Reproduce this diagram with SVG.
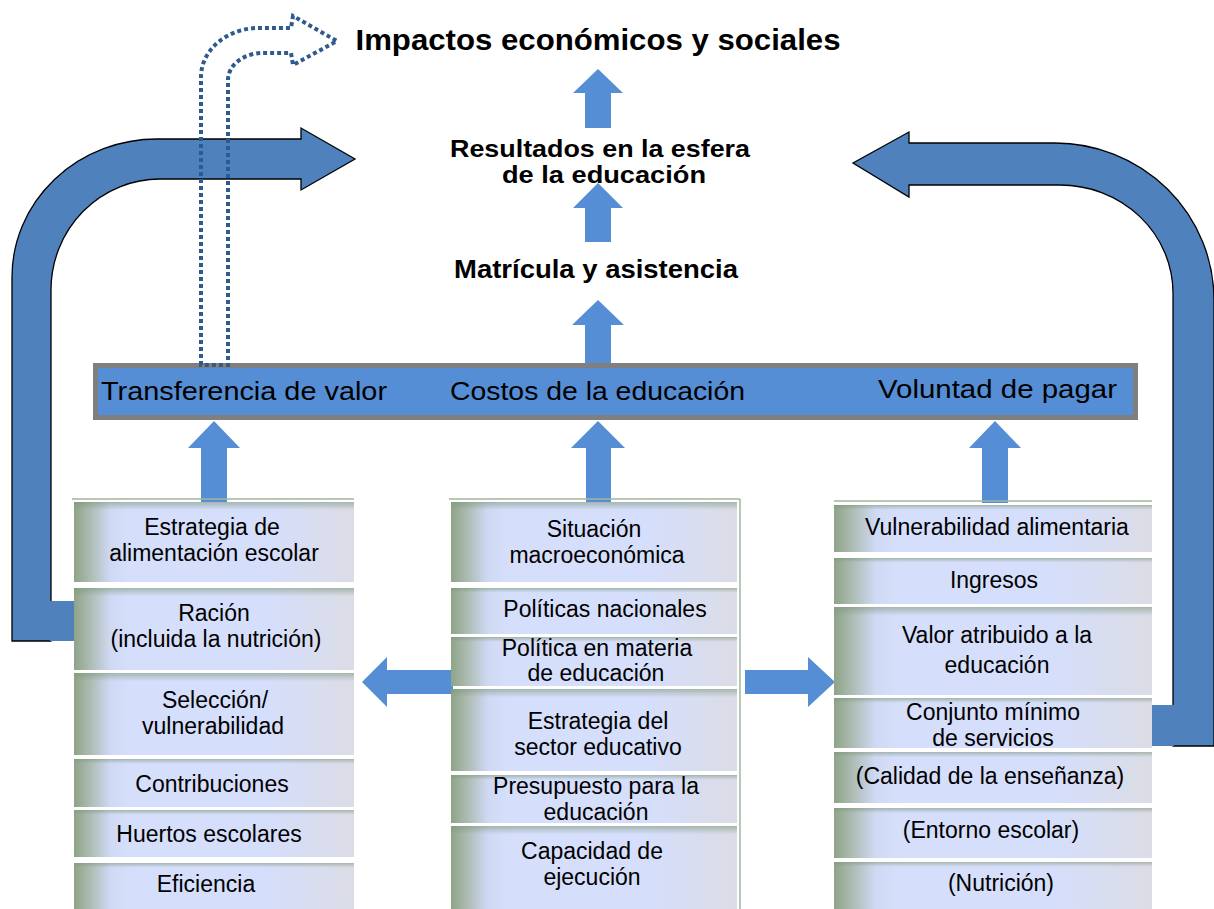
<svg xmlns="http://www.w3.org/2000/svg" width="1214" height="909" viewBox="0 0 1214 909">
<defs>
<linearGradient id="boxH" x1="0" y1="0" x2="1" y2="0">
<stop offset="0" stop-color="#8ea488"/>
<stop offset="0.05" stop-color="#a9b8ac"/>
<stop offset="0.13" stop-color="#cfd9f4"/>
<stop offset="0.2" stop-color="#d5defa"/>
<stop offset="0.7" stop-color="#d5defa"/>
<stop offset="1" stop-color="#dbdce5"/>
</linearGradient>
<linearGradient id="boxV" x1="0" y1="0" x2="0" y2="1">
<stop offset="0" stop-color="#7d957a" stop-opacity="0.55"/>
<stop offset="0.1" stop-color="#7d957a" stop-opacity="0"/>
<stop offset="1" stop-color="#7d957a" stop-opacity="0"/>
</linearGradient>
</defs>
<style>
.bx{fill:url(#boxH)}
.sh{fill:url(#boxV)}
.t{font-family:"Liberation Sans",Arial,sans-serif;font-size:23px;fill:#000;text-anchor:middle}
.bt{font-family:"Liberation Sans",Arial,sans-serif;font-size:26px;fill:#000}
.hd{font-family:"Liberation Sans",Arial,sans-serif;font-weight:bold;fill:#000;text-anchor:middle}
.big{fill:#4f81bd;stroke:#000;stroke-width:1.3}
.ar{fill:#558ed5}
.dot{fill:none;stroke:#2f5a8f;stroke-width:4;stroke-dasharray:4 3}
.ln{stroke:#a3b59e;stroke-width:1.5}
</style>

<g id="connectors">
<path class="big" d="M51,641 L51,290 A109,111 0 0 1 160,179 L301,179 L301,190 L355,159 L301,128 L301,139 L157,139 A145,138 0 0 0 12,277 L12,641 Z"/>
<rect x="50" y="601" width="50" height="40" fill="#4f81bd"/>
<path class="big" d="M1173,746 L1173,293 A113,108 0 0 0 1060,185 L909,185 L909,197 L853,163 L909,132 L909,143 L1055,143 A159,157 0 0 1 1214,300 L1214,746 Z"/>
<rect x="1140" y="705" width="34" height="41" fill="#4f81bd"/>
<polygon class="ar" points="598,69 623,93 611,93 611,128 585,128 585,93 573,93"/>
<polygon class="ar" points="598,183 623,208 611,208 611,242 585,242 585,208 573,208"/>
<polygon class="ar" points="598,300 624,325 611,325 611,363 585,363 585,325 572,325"/>
<polygon class="ar" points="214,421 240,448 227,448 227,502 201,502 201,448 188,448"/>
<polygon class="ar" points="598,421 625,448 611,448 611,502 586,502 586,448 571,448"/>
<polygon class="ar" points="995,421 1021,448 1008,448 1008,503 982,503 982,448 969,448"/>
<polygon class="ar" points="362,682 387,657 387,670 453,670 453,694 387,694 387,707"/>
<polygon class="ar" points="835,682 808,657 808,670 745,670 745,694 808,694 808,707"/>
</g>

<g id="bar">
<rect x="93" y="363" width="1045" height="57" fill="#7f7f7f"/>
<rect x="98" y="368" width="1035" height="47" fill="#558ed5"/>
<text class="bt" x="101" y="400" textLength="286" lengthAdjust="spacingAndGlyphs">Transferencia de valor</text>
<text class="bt" x="450" y="400" textLength="295" lengthAdjust="spacingAndGlyphs">Costos de la educación</text>
<text class="bt" x="878" y="398" textLength="239" lengthAdjust="spacingAndGlyphs">Voluntad de pagar</text>
</g>

<g id="dotted-arrow">
<path class="dot" d="M201,365 L201,77 A58,49 0 0 1 259,28 L291,28 L293,16 L337,41 L293,65 L291,53 L263,53 A35,27 0 0 0 228,80 L228,365 Z"/>
</g>

<g id="titles">
<text class="hd" x="598" y="50" font-size="30" textLength="485" lengthAdjust="spacingAndGlyphs">Impactos económicos y sociales</text>
<text class="hd" x="600" y="157" font-size="24" textLength="300" lengthAdjust="spacingAndGlyphs">Resultados en la esfera</text>
<text class="hd" x="604" y="183" font-size="24" textLength="204" lengthAdjust="spacingAndGlyphs">de la educación</text>
<text class="hd" x="596" y="278" font-size="25" textLength="284" lengthAdjust="spacingAndGlyphs">Matrícula y asistencia</text>
</g>

<g id="column-lines">
<line class="ln" x1="72" y1="499" x2="354" y2="499"/>
<line class="ln" x1="449" y1="499" x2="740" y2="499"/>
<line class="ln" x1="740" y1="499" x2="740" y2="909" stroke-width="1"/>
<line class="ln" x1="834" y1="501" x2="1152" y2="501"/>
</g>

<g id="l1"><rect class="bx" x="74" y="502" width="280" height="80"/><rect class="sh" x="74" y="502" width="280" height="80"/>
<text class="t" x="212" y="534.5">Estrategia de</text><text class="t" x="214" y="560.5">alimentación escolar</text></g>
<g id="l2"><rect class="bx" x="74" y="588" width="280" height="82"/><rect class="sh" x="74" y="588" width="280" height="82"/>
<text class="t" x="214" y="621">Ración</text><text class="t" x="216" y="647">(incluida la nutrición)</text></g>
<g id="l3"><rect class="bx" x="74" y="673" width="280" height="82"/><rect class="sh" x="74" y="673" width="280" height="82"/>
<text class="t" x="215" y="708">Selección/</text><text class="t" x="213" y="734">vulnerabilidad</text></g>
<g id="l4"><rect class="bx" x="74" y="759" width="280" height="48"/><rect class="sh" x="74" y="759" width="280" height="48"/>
<text class="t" x="212" y="792">Contribuciones</text></g>
<g id="l5"><rect class="bx" x="74" y="810" width="280" height="47"/><rect class="sh" x="74" y="810" width="280" height="47"/>
<text class="t" x="209" y="842">Huertos escolares</text></g>
<g id="l6"><rect class="bx" x="74" y="863" width="280" height="46"/><rect class="sh" x="74" y="863" width="280" height="46"/>
<text class="t" x="206" y="892">Eficiencia</text></g>

<g id="m1"><rect class="bx" x="451" y="502" width="286" height="80"/><rect class="sh" x="451" y="502" width="286" height="80"/>
<text class="t" x="594" y="536.5">Situación</text><text class="t" x="597" y="562.5">macroeconómica</text></g>
<g id="m2"><rect class="bx" x="451" y="588" width="286" height="46"/><rect class="sh" x="451" y="588" width="286" height="46"/>
<text class="t" x="605" y="617">Políticas nacionales</text></g>
<g id="m3"><rect class="bx" x="451" y="637" width="286" height="49"/><rect class="sh" x="451" y="637" width="286" height="49"/>
<text class="t" x="597" y="656">Política en materia</text><text class="t" x="596" y="681">de educación</text></g>
<g id="m4"><rect class="bx" x="451" y="689" width="286" height="82"/><rect class="sh" x="451" y="689" width="286" height="82"/>
<text class="t" x="598" y="728.5">Estrategia del</text><text class="t" x="598" y="754.5">sector educativo</text></g>
<g id="m5"><rect class="bx" x="451" y="775" width="286" height="48"/><rect class="sh" x="451" y="775" width="286" height="48"/>
<text class="t" x="596" y="794">Presupuesto para la</text><text class="t" x="596" y="819.5">educación</text></g>
<g id="m6"><rect class="bx" x="451" y="826" width="286" height="83"/><rect class="sh" x="451" y="826" width="286" height="83"/>
<text class="t" x="592" y="858.5">Capacidad de</text><text class="t" x="592" y="884.5">ejecución</text></g>

<g id="r1"><rect class="bx" x="834" y="505" width="318" height="47"/><rect class="sh" x="834" y="505" width="318" height="47"/>
<text class="t" x="997" y="535">Vulnerabilidad alimentaria</text></g>
<g id="r2"><rect class="bx" x="834" y="558" width="318" height="46"/><rect class="sh" x="834" y="558" width="318" height="46"/>
<text class="t" x="994" y="588">Ingresos</text></g>
<g id="r3"><rect class="bx" x="834" y="607" width="318" height="88"/><rect class="sh" x="834" y="607" width="318" height="88"/>
<text class="t" x="997" y="643">Valor atribuido a la</text><text class="t" x="997" y="673">educación</text></g>
<g id="r4"><rect class="bx" x="834" y="698" width="318" height="50"/><rect class="sh" x="834" y="698" width="318" height="50"/>
<text class="t" x="993" y="720">Conjunto mínimo</text><text class="t" x="993" y="745.5">de servicios</text></g>
<g id="r5"><rect class="bx" x="834" y="752" width="318" height="51"/><rect class="sh" x="834" y="752" width="318" height="51"/>
<text class="t" x="990" y="784">(Calidad de la enseñanza)</text></g>
<g id="r6"><rect class="bx" x="834" y="808" width="318" height="50"/><rect class="sh" x="834" y="808" width="318" height="50"/>
<text class="t" x="991" y="838">(Entorno escolar)</text></g>
<g id="r7"><rect class="bx" x="834" y="862" width="318" height="47"/><rect class="sh" x="834" y="862" width="318" height="47"/>
<text class="t" x="1001" y="891">(Nutrición)</text></g>
</svg>
